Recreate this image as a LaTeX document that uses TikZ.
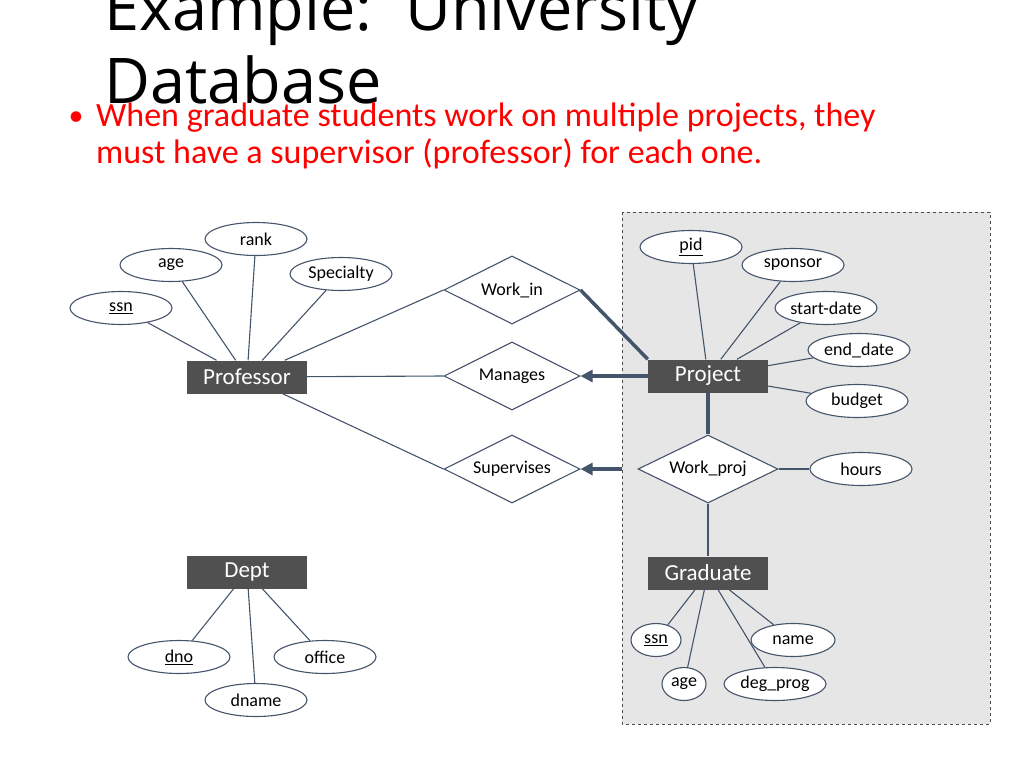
\documentclass[tikz,border=0pt]{standalone}
\usepackage{fontspec}
\setmainfont{Carlito}
\newfontfamily\titlefont{Open Sans}
\usetikzlibrary{shapes.geometric,arrows.meta}
\definecolor{entColor}{HTML}{505050}
\definecolor{lineColor}{HTML}{44546A}
\definecolor{aggColor}{HTML}{E6E6E6}
\tikzset{
	entity/.style={fill=entColor,text=white,minimum width=120pt,minimum height=33pt,inner sep=0,font=\fontsize{23}{25}\selectfont},
	attr/.style={ellipse,draw=lineColor,line width=1.1pt,fill=white,minimum width=102pt,minimum height=33pt,inner sep=0,font=\fontsize{18}{20}\selectfont},
	rel/.style={diamond,draw=lineColor,line width=1.1pt,fill=white,aspect=2,minimum width=136pt,minimum height=68pt,inner sep=0,font=\fontsize{18}{20}\selectfont},
	link/.style={draw=lineColor,line width=1.1pt},
	bold link/.style={draw=lineColor,line width=3.5pt},
	bold arrow/.style={draw=lineColor,line width=3.5pt,-{Triangle[length=12pt,width=12pt]}}
}
\begin{document}
\begin{tikzpicture}[x=1pt,y=-1pt]
	\useasboundingbox (0,0) rectangle (1024,768);
	% aggregation box
	\draw[dashed,fill=aggColor,draw=black!70,line width=1pt] (622,212) rectangle (990,724);
	\coordinate (agg_w) at (622,469);
	% title and bullet
	\node[anchor=west,font=\titlefont\fontsize{63}{66}\selectfont,inner sep=0] (title1) at (104,14) {Example:\ \ University};
	\node[anchor=west,font=\titlefont\fontsize{63}{66}\selectfont,inner sep=0] (title2) at (104,80) {Database};
	\node[anchor=north west,align=left,text=red,font=\fontsize{34}{37}\selectfont,inner sep=0] (bullet) at (96,103) {When graduate students work on multiple projects, they\\must have a supervisor (professor) for each one.};
	\node[text=red,font=\fontsize{30}{37}\selectfont,inner sep=0] (dot) at (76,119) {\textbullet};
	% entities
	\node[entity] (prof) at (247,377) {Professor};
	\node[entity] (proj) at (708,376) {Project};
	\node[entity] (dept) at (247,572) {Dept};
	\node[entity] (grad) at (708,573) {Graduate};
	% relationships
	\node[rel] (workin) at (512,290) {Work\_in};
	\node[rel] (manages) at (512,376) {Manages};
	\node[rel] (superv) at (512,469) {Supervises};
	\node[rel,minimum width=140pt] (workproj) at (708,469) {Work\_proj};
	% attributes
	\node[attr] (rank) at (256,239) {rank};
	\node[attr] (page) at (171,265) {age};
	\node[attr] (spec) at (341,274) {Specialty};
	\node[attr] (pssn) at (121,308) {\underline{ssn}};
	\node[attr] (pid) at (691,247) {\underline{pid}};
	\node[attr] (spons) at (793,265) {sponsor};
	\node[attr] (start) at (826,308) {start-date};
	\node[attr] (end) at (859,350) {end\_date};
	\node[attr] (budget) at (857,401) {budget};
	\node[attr] (hours) at (861,469) {hours};
	\node[attr,minimum width=50pt] (gssn) at (656,640) {\underline{ssn}};
	\node[attr,minimum width=84pt] (name) at (793,640) {name};
	\node[attr,minimum width=44pt] (gage) at (684,684) {age};
	\node[attr] (degprog) at (775,684) {deg\_prog};
	\node[attr] (dno) at (179,657) {\underline{dno}};
	\node[attr] (office) at (325,657) {office};
	\node[attr] (dname) at (256,700) {dname};
	% attribute links
	\foreach \a/\b in {rank/prof,page/prof,spec/prof,pssn/prof,pid/proj,spons/proj,start/proj,end/proj,budget/proj,
		gssn/grad,name/grad,gage/grad,degprog/grad,dno/dept,office/dept,dname/dept}
		\draw[link] (\a) -- (\b);
	% relationship links
	\draw[link] (prof) -- (workin.west);
	\draw[link] (prof) -- (manages.west);
	\draw[link] (prof) -- (superv.west);
	\draw[bold link] (workin.east) -- (proj.north west);
	\draw[bold arrow] (proj) -- (manages.east);
	\draw[bold arrow] (agg_w) -- (superv.east);
	\draw[bold link] (proj) -- (workproj);
	\draw[link] (workproj) -- (hours);
	\draw[link] (workproj) -- (grad);
\end{tikzpicture}
\end{document}
